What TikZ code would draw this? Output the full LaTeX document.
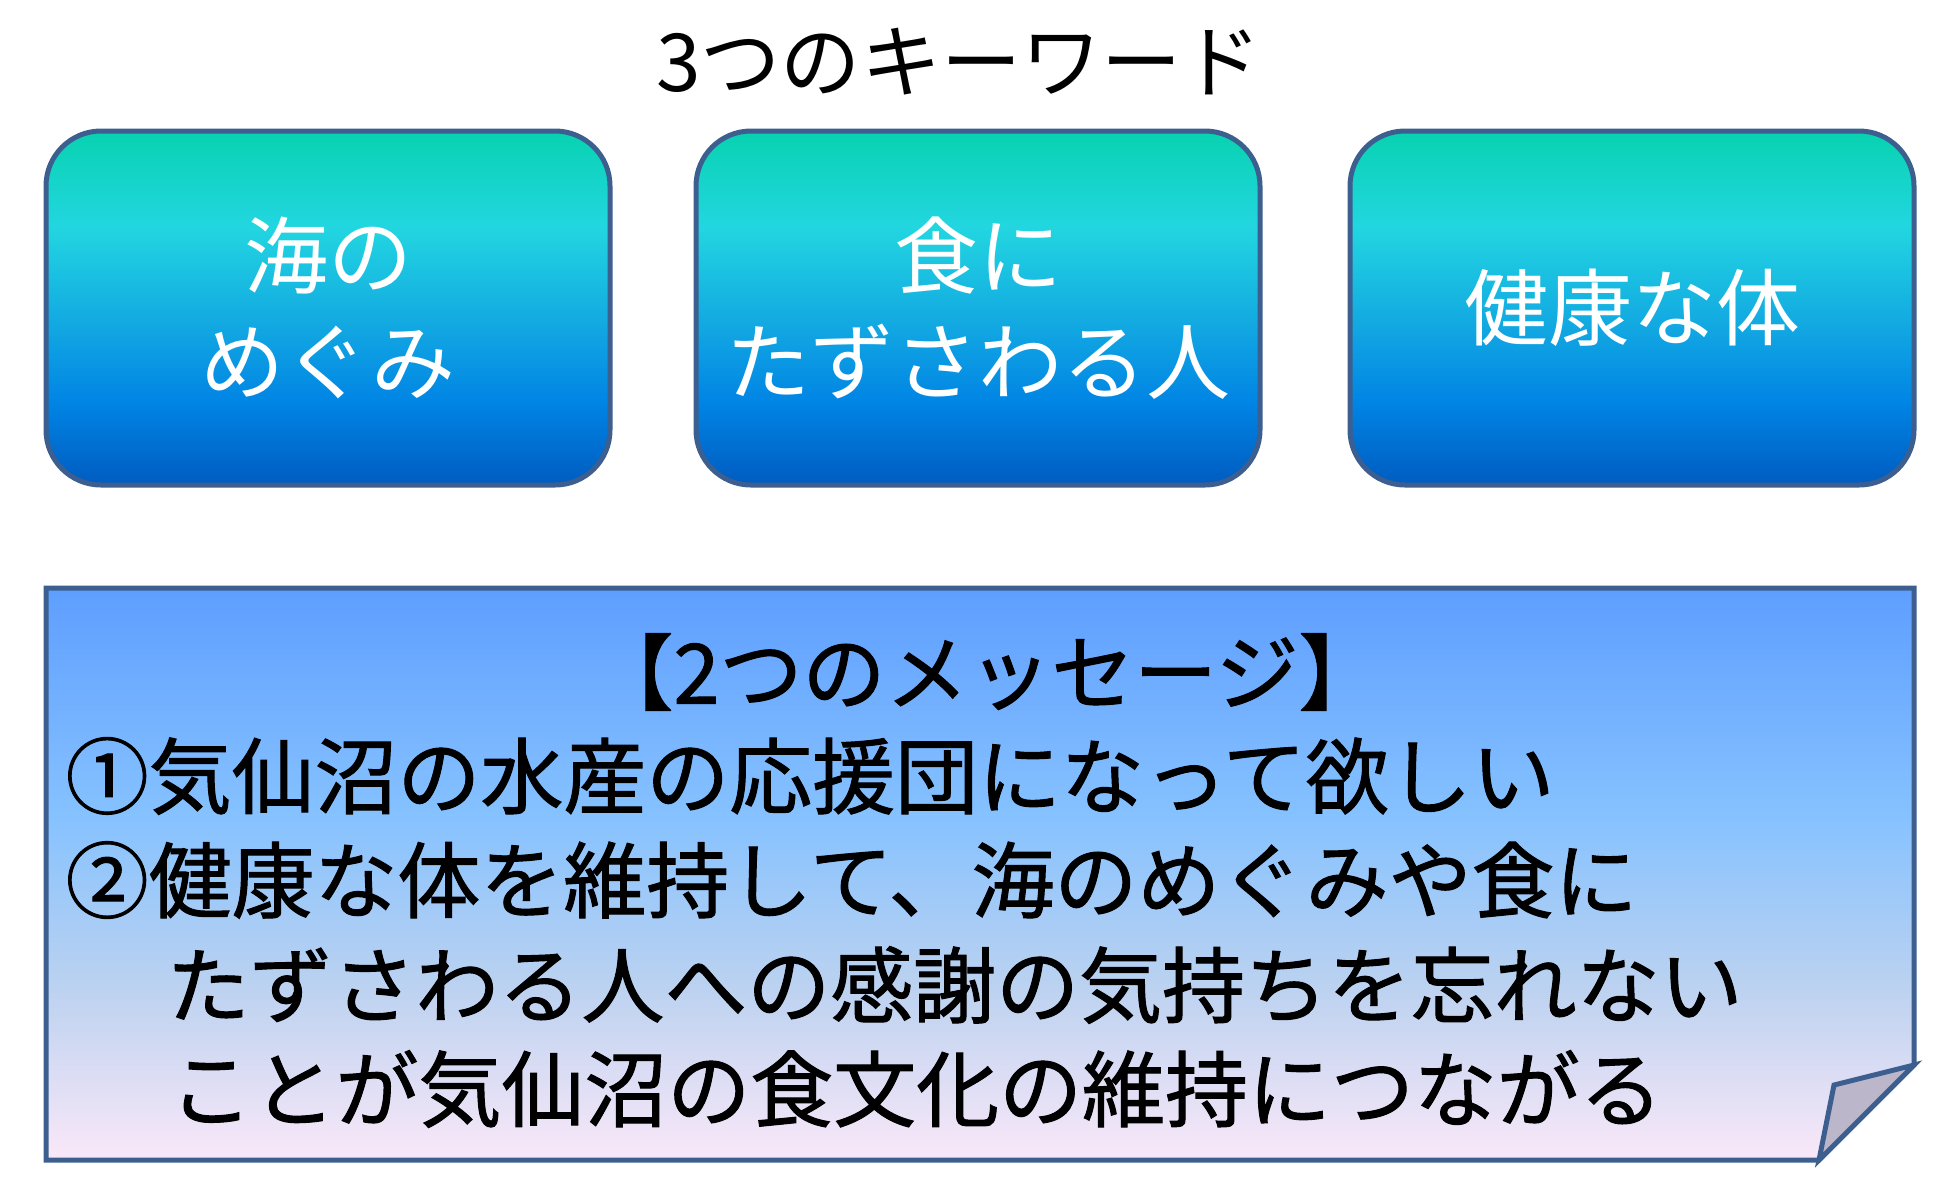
\documentclass[tikz,border=0pt]{standalone}
\usepackage{fontspec}
\setmainfont{Noto Sans CJK JP}
\newfontfamily\msgfont{Noto Sans CJK JP}[FakeBold=1.2]
\usepackage{tikz}
\definecolor{edgeblue}{HTML}{3C5F8F}
\definecolor{kwteal}{HTML}{08D2B0}
\definecolor{kwcyan}{HTML}{22D6E0}
\definecolor{kwmid}{HTML}{12A8E2}
\definecolor{kwblue}{HTML}{0084E4}
\definecolor{kwdark}{HTML}{005CC0}
\definecolor{msgtop}{HTML}{5E9EFF}
\definecolor{msgsky}{HTML}{86C2FF}
\definecolor{msgpale}{HTML}{BCD2F0}
\definecolor{msgpink}{HTML}{FAE8F8}
\definecolor{foldgrey}{HTML}{BBB6CA}
\pgfdeclareverticalshading{kwshade}{100bp}{color(0bp)=(kwdark); color(25bp)=(kwdark); color(36.5bp)=(kwblue); color(47.5bp)=(kwmid); color(61.5bp)=(kwcyan); color(75bp)=(kwteal); color(100bp)=(kwteal)}
\pgfdeclareverticalshading{msgshade}{100bp}{color(0bp)=(msgpink); color(25bp)=(msgpink); color(40bp)=(msgpale); color(55bp)=(msgsky); color(75bp)=(msgtop); color(100bp)=(msgtop)}
\tikzset{
    keybox/.style={rectangle, rounded corners=0.55cm, draw=edgeblue, line width=0.05cm, shading=kwshade, minimum width=5.64cm, minimum height=3.54cm, text=white, align=center, font=\fontsize{23.9pt}{30.2pt}\selectfont}
}
\tikzset{
    msgline/.style={anchor=west, inner sep=0pt, font=\msgfont\fontsize{23.6pt}{28pt}\selectfont},
    msgbox/.style={draw=edgeblue, line width=0.05cm, shading=msgshade},
    foldbox/.style={draw=edgeblue, line width=0.05cm, fill=foldgrey}
}

\begin{document}
\begin{tikzpicture}
        \useasboundingbox (0cm, 0cm) rectangle (19.6cm, -12cm);
        \node (title) [font=\fontsize{22.8pt}{26pt}\selectfont] at (9.590000cm, -0.620000cm) {3つのキーワード};
        \node (k0) [keybox] at (3.280000cm, -3.080000cm) {海の\\めぐみ};
        \node (k1) [keybox] at (9.780000cm, -3.080000cm) {食に\\たずさわる人};
        \node (k2) [keybox] at (16.320000cm, -3.080000cm) {健康な体};
        \path [msgbox] (0.46cm, -5.88cm) -- (19.14cm, -5.88cm) -- (19.14cm, -10.65cm)
                -- (18.19cm, -11.60cm) -- (0.46cm, -11.60cm) -- cycle;
        \path [foldbox] (19.14cm, -10.65cm) -- (18.34cm, -10.85cm) -- (18.19cm, -11.60cm) -- cycle;
        \node (m0) [msgline, anchor=center] at (9.860000cm, -6.720000cm) {【2つのメッセージ】};
        \node (m1) [msgline] at (0.650000cm, -7.760000cm) {①気仙沼の水産の応援団になって欲しい};
        \node (m2) [msgline] at (0.650000cm, -8.800000cm) {②健康な体を維持して、海のめぐみや食に};
        \node (m3) [msgline] at (1.660000cm, -9.850000cm) {たずさわる人への感謝の気持ちを忘れない};
        \node (m4) [msgline] at (1.690000cm, -10.890000cm) {ことが気仙沼の食文化の維持につながる};
\end{tikzpicture}
\end{document}
